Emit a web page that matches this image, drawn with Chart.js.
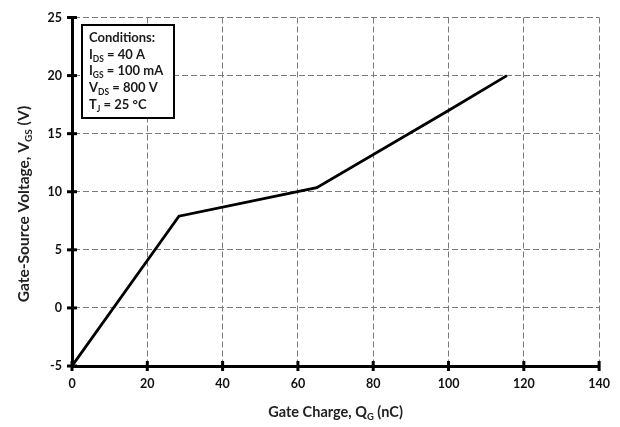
<!DOCTYPE html>
<html><head><meta charset="utf-8">
<script src="https://cdn.jsdelivr.net/npm/chart.js@4"></script>
<style>html,body{margin:0;padding:0;background:#fff}#wrap{width:620px;height:427px}</style>
</head><body><div id="wrap"><canvas id="c" width="620" height="427"></canvas></div>
<script>
const gateCharge = [0, 28.4, 65, 100, 115.5];
const gateVoltage = [-5, 7.9, 10.35, 17.0, 20];
const xTicks = [0, 20, 40, 60, 80, 100, 120, 140];
const yTicks = [-5, 0, 5, 10, 15, 20, 25];
const conditions = [
  [["Conditions:", false]],
  [["I", false], ["DS", true], [" = 40 A", false]],
  [["I", false], ["GS", true], [" = 100 mA", false]],
  [["V", false], ["DS", true], [" = 800 V", false]],
  [["T", false], ["J", true], [" = 25 °C", false]]
];
const xTitle = [["Gate Charge, Q", false], ["G", true], [" (nC)", false]];
const yTitle = [["Gate-Source Voltage, V", false], ["GS", true], [" (V)", false]];

const FONT = 'Lato, "Open Sans", sans-serif';

function drawRich(ctx, parts, x, y, size, weight, align) {
  let w = 0;
  parts.forEach(p => {
    ctx.font = weight + ' ' + (p[1] ? size * 0.65 : size) + 'px ' + FONT;
    w += ctx.measureText(p[0]).width;
  });
  let cx = align === 'center' ? x - w / 2 : x;
  parts.forEach(p => {
    ctx.font = weight + ' ' + (p[1] ? size * 0.65 : size) + 'px ' + FONT;
    ctx.fillText(p[0], cx, p[1] ? y + size * 0.22 : y);
    cx += ctx.measureText(p[0]).width;
  });
}

const decor = {
  id: 'decor',
  afterDraw(chart) {
    const ctx = chart.ctx;
    const xs = chart.scales.x, ys = chart.scales.y;
    const ca = chart.chartArea;
    ctx.save();
    ctx.strokeStyle = '#000';
    ctx.lineWidth = 3;
    xTicks.forEach(v => {
      const px = xs.getPixelForValue(v);
      ctx.beginPath(); ctx.moveTo(px, ca.bottom - 5); ctx.lineTo(px, ca.bottom + 5); ctx.stroke();
    });
    yTicks.forEach(v => {
      const py = ys.getPixelForValue(v);
      ctx.beginPath(); ctx.moveTo(ca.left - 5, py); ctx.lineTo(ca.left + 5, py); ctx.stroke();
    });
    // conditions box
    ctx.fillStyle = '#fff';
    ctx.fillRect(82, 25, 92, 93);
    ctx.lineWidth = 2;
    ctx.strokeRect(82, 25, 92, 93);
    ctx.fillStyle = '#1a1a1a';
    ctx.textBaseline = 'alphabetic';
    conditions.forEach((line, i) => {
      drawRich(ctx, line, 89, 42 + i * 16.7, 13, 'bold', 'left');
    });
    // axis titles
    ctx.fillStyle = '#222';
    drawRich(ctx, xTitle, (ca.left + ca.right) / 2, 417, 14.5, 'bold', 'center');
    ctx.translate(29, 204);
    ctx.rotate(-Math.PI / 2);
    drawRich(ctx, yTitle, 0, 0, 15.5, 'bold', 'center');
    ctx.restore();
  }
};

new Chart(document.getElementById('c'), {
  type: 'line',
  data: {
    datasets: [{
      data: gateCharge.map((q, i) => ({ x: q, y: gateVoltage[i] })),
      borderColor: '#000',
      borderWidth: 2.8,
      pointRadius: 0,
      tension: 0,
      fill: false
    }]
  },
  options: {
    responsive: false,
    animation: false,
    layout: { padding: { top: 17, right: 20, left: 0, bottom: 0 } },
    plugins: { legend: { display: false }, tooltip: { enabled: false } },
    scales: {
      x: {
        type: 'linear', min: 0, max: 140,
        afterBuildTicks: s => { s.ticks = xTicks.map(v => ({ value: v })); },
        afterFit: s => { s.height = 61; },
        grid: { color: '#7a7a7a', lineWidth: 1, drawTicks: false },
        border: { color: '#000', width: 3, dash: [6, 3] },
        ticks: { color: '#111', font: { family: FONT, size: 12.5, weight: 'bold' }, padding: 10, maxRotation: 0 }
      },
      y: {
        type: 'linear', min: -5, max: 25,
        afterBuildTicks: s => { s.ticks = yTicks.map(v => ({ value: v })); },
        afterFit: s => { s.width = 72; },
        grid: { color: '#7a7a7a', lineWidth: 1, drawTicks: false },
        border: { color: '#000', width: 3, dash: [6, 3] },
        ticks: { color: '#111', font: { family: FONT, size: 12.5, weight: 'bold' }, padding: 10 }
      }
    }
  },
  plugins: [decor]
});
</script>
</body></html>
